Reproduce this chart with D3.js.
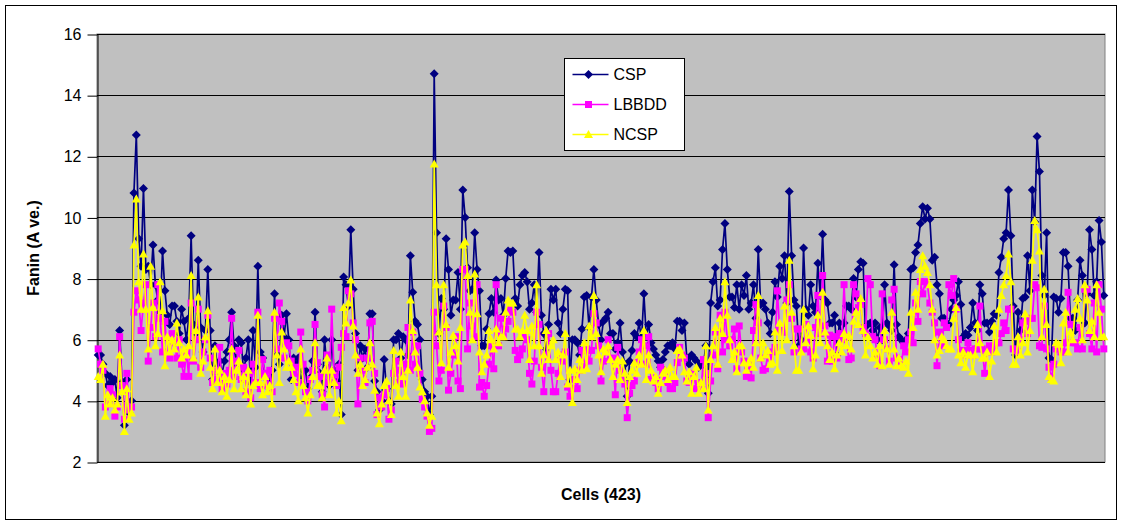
<!DOCTYPE html>
<html>
<head>
<meta charset="utf-8">
<script src="https://cdn.jsdelivr.net/npm/d3@7"></script>
<style>
  body { margin: 0; background: #fff; }
  svg { display: block; font-family: Arial, "Liberation Sans", sans-serif; }
</style>
</head>
<body>
<div id="chart-container"></div>
<script>
// values, one value per cell (423 cells)
var csp = [
  5.5, 5.5, 5.2, 4.9, 4.5, 4.8, 4.6, 4.7, 4.1, 6.3, 4.6, 3.2, 4.7, 3.6, 4.0, 10.8, 12.7, 9.3, 8.4, 10.95, 8.3, 8.4, 7.8, 9.1, 7.8, 7.3, 6.9, 8.9, 7.6, 6.8, 6.5, 7.1, 7.1, 6.6, 6.2, 7.0, 6.6, 6.0,
  6.7, 9.4, 6.5, 6.2, 8.6, 6.4, 5.6, 6.3, 8.3, 6.3, 4.7, 5.8, 5.1, 5.3, 4.9, 5.3, 5.6, 6.0, 6.9, 5.8, 5.2, 6.0, 5.9, 5.0, 5.4, 6.0, 4.6, 6.3, 5.1, 8.4, 5.6, 5.4, 4.8, 4.7, 4.4, 5.0, 7.5, 5.5, 5.2,
  6.8, 6.1, 6.85, 6.0, 4.7, 5.4, 5.2, 5.4, 4.6, 5.0, 5.0, 4.4, 4.75, 5.3, 6.9, 5.2, 4.9, 4.3, 6.0, 5.1, 4.5, 6.0, 5.0, 4.65, 5.2, 3.55, 8.05, 7.8, 7.1, 9.6, 7.65, 6.2, 5.0, 5.8, 5.4, 5.7, 5.1, 6.85,
  6.85, 4.65, 4.3, 3.7, 4.0, 5.35, 4.4, 4.0, 3.9, 6.0, 6.0, 6.2, 5.4, 6.1, 6.0, 5.5, 8.75, 7.55, 6.6, 6.5, 6.0, 4.7, 4.3, 4.15, 3.55, 4.15, 14.7, 9.5, 6.2, 7.35, 7.0, 9.3, 8.3, 6.8, 7.3, 7.3, 8.2, 7.0, 10.9,
  10.0, 8.35, 7.6, 7.65, 9.5, 8.3, 7.6, 5.8, 5.8, 6.35, 6.85, 7.35, 6.9, 7.95, 7.3, 7.35, 6.8, 8.0, 8.9, 8.85, 8.9, 7.35, 7.1, 7.8, 8.1, 8.2, 7.9, 7.0, 7.2, 7.8, 6.9, 8.85, 6.8, 6.2, 5.7, 6.5, 7.65, 7.3,
  7.65, 6.55, 6.2, 7.0, 7.65, 7.6, 4.7, 6.0, 6.0, 5.9, 5.5, 6.35, 7.4, 7.45, 6.4, 7.4, 8.3, 7.3, 6.5, 6.0, 6.6, 6.7, 6.9, 6.2, 6.2, 5.7, 5.9, 6.55, 5.6, 5.2, 4.15, 5.3, 5.65, 6.2, 6.1, 6.55, 6.0, 7.5, 6.1,
  6.5, 5.9, 5.7, 5.5, 5.3, 5.1, 5.35, 5.6, 5.8, 5.8, 5.9, 5.7, 6.6, 6.6, 6.3, 6.55, 5.4, 5.2, 5.5, 5.4, 5.3, 5.1, 5.2, 5.2, 5.8, 4.25, 7.2, 7.9, 8.35, 7.1, 7.3, 8.95, 9.8, 8.3, 7.4, 7.4, 7.05, 7.8, 7.0,
  7.8, 7.45, 8.1, 7.0, 7.2, 7.8, 6.7, 8.95, 7.15, 7.2, 7.0, 6.55, 6.2, 6.9, 7.9, 7.4, 8.4, 8.0, 8.75, 7.2, 10.85, 8.75, 7.3, 7.1, 5.8, 6.0, 9.0, 7.0, 6.8, 7.8, 7.1, 6.9, 8.5, 7.45, 9.45, 7.3, 7.2, 6.55,
  6.55, 6.8, 5.5, 6.55, 6.2, 6.55, 7.1, 7.1, 7.0, 8.0, 7.4, 8.3, 8.55, 8.5, 6.2, 6.5, 6.55, 6.3, 6.55, 6.0, 6.4, 6.0, 7.8, 6.55, 6.45, 6.3, 8.45, 6.5, 6.1, 6.0, 5.9, 6.0, 6.2, 8.3, 8.35, 8.85, 9.1, 9.8, 10.35,
  9.95, 10.3, 9.95, 8.6, 8.7, 7.8, 7.5, 6.7, 6.7, 6.55, 6.5, 7.0, 7.3, 7.45, 7.9, 7.15, 6.1, 6.2, 6.15, 6.4, 7.2, 6.55, 6.3, 7.8, 7.5, 6.55, 6.55, 6.25, 6.6, 6.85, 6.8, 8.2, 8.7, 9.3, 9.5, 10.9, 9.4, 7.1,
  5.5, 6.9, 6.3, 7.35, 7.4, 8.75, 7.6, 10.9, 9.85, 12.65, 11.5, 8.1, 7.45, 9.5, 5.4, 5.35, 7.4, 7.35, 6.9, 7.35, 8.85, 8.85, 8.4, 6.7, 6.7, 6.3, 7.3, 8.6, 8.1, 6.55, 7.5, 9.6, 8.95, 7.45, 7.9, 9.9, 9.2, 7.45
];

var lbbdd = [
  5.7, 5.2, 5.0, 3.8, 3.9, 4.4, 4.2, 3.5, 3.8, 6.1, 4.5, 3.4, 4.9, 3.7, 3.8, 6.9, 7.6, 7.3, 6.3, 7.2, 7.8, 5.3, 6.4, 7.2, 6.1, 7.8, 6.7, 5.6, 6.6, 5.5, 5.4, 6.2, 5.9, 5.4, 6.0, 5.2, 4.8, 5.6,
  4.8, 7.2, 5.3, 6.0, 7.0, 5.1, 5.6, 6.0, 6.8, 5.4, 4.6, 5.0, 4.7, 5.75, 4.4, 4.9, 4.55, 5.0, 6.7, 4.8, 5.3, 5.65, 4.7, 5.1, 4.3, 4.9, 4.1, 5.2, 4.6, 6.9, 4.4, 5.35, 4.9, 4.5, 5.0, 4.3, 6.7, 5.7, 7.2,
  6.6, 5.4, 5.9, 5.8, 5.3, 4.9, 5.1, 4.6, 6.25, 5.2, 4.3, 4.0, 4.7, 5.0, 6.5, 5.25, 4.8, 4.2, 3.8, 5.5, 4.6, 7.0, 4.85, 4.5, 5.1, 5.75, 6.2, 6.1, 7.6, 7.5, 6.55, 6.0, 3.9, 5.4, 5.0, 4.6, 5.4, 6.55,
  6.6, 4.9, 3.55, 4.1, 3.8, 4.2, 4.4, 3.4, 3.7, 4.9, 5.3, 4.6, 5.0, 4.55, 5.2, 6.4, 5.0, 6.25, 5.2, 5.8, 4.9, 4.05, 3.8, 3.5, 3.0, 3.1, 6.9, 5.8, 4.65, 5.0, 7.1, 6.4, 4.35, 4.9, 5.5, 6.1, 4.65, 4.4, 8.3,
  8.3, 5.7, 7.2, 6.45, 6.1, 7.8, 4.45, 4.6, 4.15, 4.5, 5.2, 5.8, 5.05, 7.8, 5.8, 6.7, 6.1, 6.35, 6.6, 7.0, 6.9, 5.65, 5.35, 5.5, 5.7, 6.1, 6.0, 4.9, 4.55, 5.3, 6.9, 6.5, 5.1, 4.3, 5.5, 6.2, 5.0, 4.3,
  4.3, 4.9, 5.5, 5.3, 5.6, 4.45, 4.15, 4.4, 4.7, 4.4, 5.0, 5.65, 5.1, 5.7, 5.3, 5.65, 6.85, 6.55, 5.8, 4.65, 5.3, 5.6, 6.0, 5.35, 5.4, 4.2, 5.75, 5.0, 4.8, 4.55, 3.45, 4.25, 4.5, 4.65, 5.25, 5.6, 6.0, 5.8, 5.2,
  6.1, 4.7, 4.75, 4.6, 4.4, 5.1, 5.0, 4.8, 4.6, 4.4, 4.4, 4.6, 5.25, 5.75, 5.5, 5.4, 4.65, 4.6, 4.9, 4.8, 4.4, 4.6, 4.4, 5.35, 4.9, 3.45, 4.65, 5.5, 6.25, 5.05, 6.8, 5.6, 6.9, 6.0, 5.8, 6.0, 6.35, 5.05, 6.45,
  5.6, 5.3, 4.8, 5.2, 4.75, 6.3, 7.15, 6.55, 5.4, 5.0, 5.05, 5.5, 5.4, 5.6, 5.75, 7.6, 6.3, 6.25, 6.25, 7.3, 7.8, 6.7, 5.6, 6.35, 6.35, 5.7, 5.7, 6.5, 6.0, 5.6, 5.4, 6.4, 7.45, 6.2, 8.1, 6.45, 5.3, 6.15,
  5.3, 6.1, 5.4, 6.2, 6.0, 7.8, 6.1, 5.35, 5.4, 7.8, 7.5, 7.05, 7.15, 6.4, 6.2, 8.0, 7.8, 6.1, 6.0, 5.5, 5.15, 7.5, 6.0, 5.7, 5.3, 7.3, 7.65, 5.4, 5.35, 5.15, 5.8, 5.6, 6.0, 6.25, 5.9, 7.2, 6.6, 7.9, 7.5,
  7.9, 7.8, 7.2, 6.9, 6.55, 5.15, 6.25, 5.8, 6.55, 6.4, 7.8, 7.45, 8.0, 7.0, 6.0, 5.6, 5.65, 5.5, 5.9, 5.65, 5.5, 5.7, 5.7, 7.1, 5.7, 4.9, 5.6, 5.8, 5.6, 5.8, 5.9, 5.9, 6.2, 6.55, 6.3, 7.0, 7.0, 5.7,
  5.65, 5.6, 6.0, 6.55, 6.6, 6.2, 6.7, 6.7, 7.8, 7.7, 5.8, 5.75, 7.1, 5.7, 5.1, 4.75, 5.2, 5.7, 5.7, 5.6, 5.6, 5.9, 7.55, 6.5, 5.9, 5.9, 5.7, 6.4, 5.7, 7.65, 7.65, 6.2, 5.7, 7.2, 5.6, 7.8, 7.0, 5.7
];

var ncsp = [
  4.8, 4.7, 5.2, 3.5, 4.2, 3.9, 4.1, 3.7, 3.9, 5.5, 4.3, 3.0, 4.4, 3.4, 3.6, 9.1, 10.6, 7.9, 7.0, 8.8, 7.0, 5.7, 8.4, 7.05, 5.8, 6.2, 7.9, 6.95, 5.15, 6.1, 5.6, 6.0, 5.7, 6.55, 5.9, 5.4, 5.7, 5.5,
  5.8, 8.1, 5.4, 6.3, 7.4, 4.9, 5.3, 6.1, 6.95, 5.1, 4.4, 5.7, 4.6, 5.0, 4.3, 4.8, 4.15, 4.7, 5.7, 4.4, 5.0, 5.3, 4.4, 4.8, 4.2, 5.0, 3.9, 4.5, 4.6, 6.8, 4.6, 4.2, 4.8, 4.3, 4.5, 3.9, 6.9, 5.5, 4.6,
  6.25, 5.7, 5.1, 5.3, 5.1, 4.7, 4.3, 4.0, 5.7, 4.5, 4.1, 3.6, 4.2, 4.8, 5.9, 4.5, 4.5, 4.1, 5.0, 5.4, 4.2, 5.0, 4.6, 3.6, 4.0, 3.35, 7.05, 6.55, 7.2, 7.95, 6.45, 5.5, 4.9, 5.2, 4.5, 4.7, 5.1, 5.9,
  5.2, 4.35, 3.6, 3.25, 3.9, 4.5, 4.65, 4.0, 3.55, 5.65, 4.5, 4.15, 5.6, 4.8, 4.15, 5.0, 7.3, 6.3, 5.6, 5.1, 4.45, 4.3, 4.0, 3.6, 3.2, 3.5, 11.75, 7.8, 6.25, 5.25, 7.8, 6.5, 5.1, 5.6, 6.15, 5.8, 5.3, 6.4, 9.1,
  9.2, 8.1, 6.9, 6.0, 8.15, 6.85, 5.6, 4.95, 5.2, 5.5, 6.3, 6.0, 5.7, 6.35, 5.9, 6.1, 6.1, 6.9, 7.3, 7.2, 7.2, 6.35, 6.35, 6.1, 6.3, 6.8, 6.3, 5.35, 6.45, 5.8, 7.8, 5.8, 4.9, 5.5, 6.3, 5.35, 5.8, 6.0,
  5.35, 5.6, 4.8, 5.5, 6.2, 4.55, 5.0, 3.95, 5.05, 4.7, 5.35, 5.0, 5.9, 5.05, 6.45, 6.1, 7.45, 6.2, 5.5, 4.95, 5.7, 5.6, 5.8, 5.35, 4.8, 5.2, 5.35, 4.7, 5.3, 4.9, 3.95, 4.8, 5.0, 5.25, 4.9, 5.5, 5.2, 6.3, 4.7,
  5.5, 5.0, 4.65, 4.8, 4.25, 4.6, 4.9, 5.0, 4.7, 5.1, 4.8, 4.8, 5.65, 5.7, 5.5, 4.95, 4.65, 4.95, 4.25, 4.8, 5.1, 4.25, 4.6, 4.4, 5.8, 3.7, 5.35, 5.8, 6.4, 5.2, 6.7, 6.2, 7.9, 6.8, 6.0, 5.35, 5.6, 4.95, 5.8,
  5.8, 5.25, 5.0, 5.25, 5.4, 5.1, 5.9, 7.45, 5.4, 5.9, 5.5, 5.65, 5.2, 5.25, 6.25, 5.0, 6.55, 5.65, 7.1, 6.0, 8.6, 6.9, 5.8, 5.0, 5.0, 5.6, 7.0, 5.9, 6.45, 6.15, 5.05, 5.5, 6.8, 5.9, 7.55, 6.25, 5.8, 5.35,
  5.6, 5.05, 5.5, 5.9, 5.6, 6.2, 5.8, 6.15, 5.7, 6.6, 6.9, 6.5, 7.35, 6.3, 5.5, 6.1, 5.8, 5.4, 5.6, 5.2, 5.8, 5.15, 6.3, 5.7, 5.2, 6.9, 5.7, 5.15, 5.4, 5.15, 5.1, 5.3, 4.9, 6.9, 6.4, 7.55, 7.0, 8.3, 8.75,
  8.4, 8.2, 7.8, 7.0, 6.0, 5.5, 5.65, 6.1, 6.0, 5.8, 5.7, 5.7, 6.7, 7.05, 5.5, 5.25, 5.6, 5.1, 5.5, 5.5, 4.95, 5.5, 6.5, 5.9, 5.4, 5.4, 5.6, 4.8, 5.3, 6.45, 5.6, 7.0, 7.45, 7.8, 8.1, 8.8, 7.9, 5.2,
  5.2, 6.1, 5.5, 5.9, 6.85, 5.6, 6.3, 8.6, 9.9, 9.6, 8.9, 6.1, 7.65, 6.5, 4.8, 4.7, 4.65, 5.9, 5.85, 5.25, 6.55, 6.9, 5.6, 6.25, 6.0, 7.0, 7.35, 6.7, 6.0, 7.8, 7.3, 6.3, 6.6, 6.1, 7.8, 6.9, 6.1, 6.1
];

var cells = d3.range(1, csp.length + 1);
var yTicks = [2, 4, 6, 8, 10, 12, 14, 16];
var seriesNames = ["CSP", "LBBDD", "NCSP"];
var seriesColors = ["#000080", "#FF00FF", "#FFFF00"];
var yTitle = "Fanin (A ve.)";
var xTitle = "Cells (" + csp.length + ")";

var svgWidth = 1122;
var svgHeight = 525;
var plot = { left: 97, top: 34, right: 1105, bottom: 462 };

var svg = d3.select("#chart-container").append("svg")
    .attr("width", svgWidth)
    .attr("height", svgHeight);

// outer chart frame
svg.append("rect")
    .attr("x", 5.5).attr("y", 5.5)
    .attr("width", 1111).attr("height", 514)
    .attr("fill", "#fff")
    .attr("stroke", "#000")
    .attr("stroke-width", 1);

var xScale = d3.scaleBand().domain(cells).range([plot.left, plot.right]);
var yScale = d3.scaleLinear().domain([2, 16]).range([plot.bottom, plot.top]);
var cx = d => xScale(d) + xScale.bandwidth() / 2;

// plot area
svg.append("rect")
    .attr("x", plot.left).attr("y", plot.top)
    .attr("width", plot.right - plot.left).attr("height", plot.bottom - plot.top)
    .attr("fill", "#C0C0C0")
    .attr("stroke", "#808080");

// grid lines
svg.append("g").selectAll("line")
    .data(yTicks.filter(t => t > 2))
    .enter().append("line")
    .attr("x1", plot.left).attr("x2", plot.right)
    .attr("y1", d => Math.round(yScale(d)) + 0.5)
    .attr("y2", d => Math.round(yScale(d)) + 0.5)
    .attr("stroke", "#000")
    .attr("stroke-width", 1);

// y axis
var yAxis = svg.append("g")
    .attr("transform", "translate(" + (plot.left + 0.5) + ",0.5)")
    .call(d3.axisLeft(yScale).tickValues(yTicks).tickSize(10).tickPadding(6).tickSizeOuter(0));
yAxis.select(".domain").attr("stroke", "#000");
yAxis.selectAll(".tick line").attr("stroke", "#000");
yAxis.selectAll("text")
    .attr("fill", "#000")
    .style("font-size", "16px")
    .style("font-family", "Arial, 'Liberation Sans', sans-serif");

// x axis line
svg.append("line")
    .attr("x1", plot.left).attr("x2", plot.right)
    .attr("y1", plot.bottom + 0.5).attr("y2", plot.bottom + 0.5)
    .attr("stroke", "#000");

// marker shapes
function markerPath(kind) {
    if (kind === 0) return "M0,-4.5L4.5,0L0,4.5L-4.5,0Z";
    if (kind === 1) return "M-3.5,-3.5H3.5V3.5H-3.5Z";
    return "M0,-4.5L4.5,3.5H-4.5Z";
}

var allSeries = [csp, lbbdd, ncsp];
var line = d3.line()
    .x((d, i) => cx(cells[i]))
    .y(d => yScale(d));

allSeries.forEach(function (values, s) {
    svg.append("path")
        .datum(values)
        .attr("fill", "none")
        .attr("stroke", seriesColors[s])
        .attr("stroke-width", 1.7)
        .attr("stroke-linejoin", "round")
        .attr("d", line);

    svg.append("g").selectAll("path")
        .data(values)
        .enter().append("path")
        .attr("d", markerPath(s))
        .attr("fill", seriesColors[s])
        .attr("transform", (d, i) => "translate(" + cx(cells[i]) + "," + yScale(d) + ")");
});

// axis titles
svg.append("text")
    .attr("transform", "translate(39," + ((plot.top + plot.bottom) / 2) + ") rotate(-90)")
    .attr("text-anchor", "middle")
    .style("font-size", "16px")
    .style("font-weight", "bold")
    .text(yTitle);

svg.append("text")
    .attr("x", (plot.left + plot.right) / 2)
    .attr("y", 500)
    .attr("text-anchor", "middle")
    .style("font-size", "16px")
    .style("font-weight", "bold")
    .text(xTitle);

// legend
var legend = svg.append("g").attr("transform", "translate(564.5,58.5)");
legend.append("rect")
    .attr("width", 120).attr("height", 92)
    .attr("fill", "#fff")
    .attr("stroke", "#000");

var rows = legend.selectAll(".row")
    .data(seriesNames)
    .enter().append("g")
    .attr("transform", (d, i) => "translate(0," + (16 + i * 30) + ")");

rows.append("line")
    .attr("x1", 8).attr("x2", 44)
    .attr("stroke", (d, i) => seriesColors[i])
    .attr("stroke-width", 1.7);
rows.append("path")
    .attr("d", (d, i) => markerPath(i))
    .attr("fill", (d, i) => seriesColors[i])
    .attr("transform", "translate(24,0)");
rows.append("text")
    .attr("x", 49)
    .attr("dy", "0.35em")
    .style("font-size", "16px")
    .text(d => d);
</script>
</body>
</html>
